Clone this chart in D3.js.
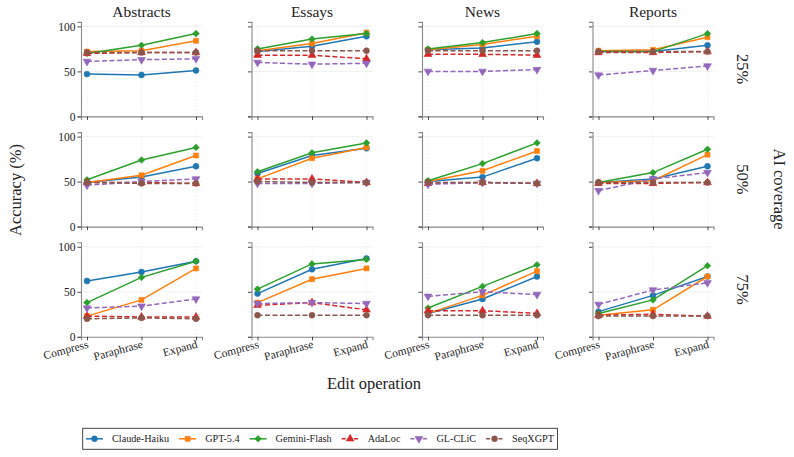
<!DOCTYPE html>
<html><head><meta charset="utf-8">
<script src="https://cdn.jsdelivr.net/npm/d3@7"></script>
<style>
html,body{margin:0;padding:0;background:#fff;}
text{font-family:"Liberation Serif","Times New Roman",serif;fill:#222;}
</style></head>
<body><svg id="chart" width="794" height="457"></svg>
<script>
// ---------------- DATA ----------------
const categories = ["Compress", "Paraphrase", "Expand"];
const docTypes = ["Abstracts", "Essays", "News", "Reports"];
const coverages = ["25%", "50%", "75%"];
const yTicks = [0, 50, 100];
const methods = ["Claude-Haiku", "GPT-5.4", "Gemini-Flash", "AdaLoc", "GL-CLiC", "SeqXGPT"];

// values[coverage][docType][operation]
const claudeHaiku = [
  [[47, 46, 51], [72, 78, 89], [74, 76, 83], [72, 72, 79]],
  [[49, 55, 67], [59, 79, 87], [50, 55, 76], [49, 53, 67]],
  [[62, 72, 84], [48, 75, 87], [26, 42, 67], [28, 46, 67]]
];
const gpt54 = [
  [[72, 73, 84], [73, 81, 93], [74, 80, 89], [73, 74, 88]],
  [[49, 57, 79], [53, 76, 88], [50, 62, 84], [49, 51, 80]],
  [[23, 41, 76], [38, 64, 76], [26, 46, 73], [24, 30, 67]]
];
const geminiFlash = [
  [[70, 79, 92], [75, 86, 92], [75, 82, 92], [72, 72, 92]],
  [[52, 74, 88], [61, 82, 93], [51, 70, 93], [49, 60, 86]],
  [[38, 66, 84], [53, 81, 86], [32, 56, 80], [26, 41, 79]]
];
const adaLoc = [
  [[70, 71, 71], [68, 68, 64], [69, 69, 68], [71, 71, 72]],
  [[49, 49, 48], [53, 53, 49], [48, 49, 48], [48, 48, 49]],
  [[23, 22, 22], [35, 38, 30], [29, 29, 26], [24, 25, 23]]
];
const glClic = [
  [[61, 63, 64], [60, 58, 59], [50, 50, 52], [46, 51, 56]],
  [[46, 50, 53], [48, 48, 49], [47, 49, 48], [40, 53, 60]],
  [[32, 34, 42], [37, 38, 37], [45, 50, 47], [36, 52, 60]]
];
const seqXgpt = [
  [[71, 71, 71], [73, 73, 73], [73, 73, 73], [72, 72, 72]],
  [[49, 48, 48], [50, 49, 49], [49, 49, 48], [49, 49, 49]],
  [[20, 21, 20], [24, 24, 24], [24, 24, 24], [23, 23, 23]]
];
const seriesValues = [claudeHaiku, gpt54, geminiFlash, adaLoc, glClic, seqXgpt];

// ---------------- STYLE ----------------
const colors = ["#1f77b4", "#ff7f0e", "#2ca02c", "#d62728", "#9467bd", "#8c564b"];
const dashed = [false, false, false, true, true, true];
const markers = ["circle", "square", "diamond", "triUp", "triDown", "circle"];

const svg = d3.select("#chart");
const panelW = 121, panelH = 94.5;
const colX0 = 81, colStep = 170.5;
const rowBottom0 = 116.4, rowStep = 110.2;

function symbolPath(kind) {
  if (kind === "circle") return d3.symbol(d3.symbolCircle, 27)();
  if (kind === "square") return d3.symbol(d3.symbolSquare, 25)();
  if (kind === "diamond") return d3.symbol(d3.symbolSquare, 22)();
  return d3.symbol(d3.symbolTriangle, 26)();
}
function drawMarker(g, kind, x, y, color) {
  let rot = "";
  if (kind === "triDown") rot = " rotate(180)";
  if (kind === "diamond") rot = " rotate(45)";
  g.append("path").attr("d", symbolPath(kind))
    .attr("transform", `translate(${x},${y})` + rot)
    .attr("fill", color).attr("stroke", color).attr("stroke-width", 0.6);
}

const xScale = d3.scaleLinear().domain([-0.11, 2.11]).range([0, panelW]);
const yScale = d3.scaleLinear().domain([0, 105]).range([panelH, 0]);

coverages.forEach((cov, r) => {
  docTypes.forEach((doc, c) => {
    const gx = colX0 + c * colStep;
    const gy = rowBottom0 + r * rowStep - panelH;
    const g = svg.append("g").attr("transform", `translate(${gx},${gy})`);

    // grid
    g.selectAll(".hg").data(yTicks.filter(t => t > 0)).join("line")
      .attr("x1", 0).attr("x2", panelW)
      .attr("y1", d => yScale(d)).attr("y2", d => yScale(d))
      .attr("stroke", "#ececec").attr("stroke-width", 0.8);
    g.selectAll(".vg").data(categories).join("line")
      .attr("x1", (d, i) => xScale(i)).attr("x2", (d, i) => xScale(i))
      .attr("y1", 0).attr("y2", panelH)
      .attr("stroke", "#e4e4e4").attr("stroke-width", 0.6).attr("stroke-dasharray", "1.5,2");

    // axes
    const yAxis = d3.axisLeft(yScale).tickValues(yTicks).tickSize(3.5).tickPadding(2)
      .tickFormat(c === 0 ? d3.format("d") : () => "");
    const ya = g.append("g").call(yAxis);
    const xAxis = d3.axisBottom(xScale).tickValues([0, 1, 2]).tickSize(3.5)
      .tickFormat(r === 2 ? (i => categories[i]) : () => "");
    const xa = g.append("g").attr("transform", `translate(0,${panelH})`).call(xAxis);
    [ya, xa].forEach(a => {
      a.attr("font-family", null);
      a.select(".domain").attr("stroke", "#888").attr("stroke-width", 1.1);
      a.selectAll(".tick line").attr("stroke", "#333").attr("stroke-width", 0.9);
      a.selectAll(".tick text").style("font-family", '"Liberation Serif","Times New Roman",serif')
        .style("font-size", "11.5px").attr("fill", "#222");
    });
    if (r === 2) {
      xa.selectAll(".tick text")
        .attr("text-anchor", "end").attr("dy", "0.6em").attr("y", 4)
        .attr("transform", "rotate(-15, 0, 5)");
    }

    // series
    seriesValues.forEach((sv, m) => {
      const vals = sv[r][c];
      const line = d3.line().x((d, i) => xScale(i)).y(d => yScale(d));
      g.append("path").datum(vals).attr("d", line)
        .attr("fill", "none").attr("stroke", colors[m]).attr("stroke-width", 1.5)
        .attr("stroke-dasharray", dashed[m] ? "5,2.5" : null);
      vals.forEach((v, i) => drawMarker(g, markers[m], xScale(i), yScale(v), colors[m]));
    });

    // column title
    if (r === 0) {
      g.append("text").attr("x", panelW / 2).attr("y", -5).attr("text-anchor", "middle")
        .style("font-size", "15.5px").text(doc);
    }
    // row label
    if (c === docTypes.length - 1) {
      g.append("text").attr("transform", `translate(${742 - gx},${panelH / 2}) rotate(90)`)
        .attr("text-anchor", "middle").attr("dominant-baseline", "central")
        .style("font-size", "16.5px").text(cov);
    }
  });
});

// global labels
svg.append("text").attr("x", 374).attr("y", 389).attr("text-anchor", "middle")
  .style("font-size", "16.5px").text("Edit operation");
svg.append("text").attr("transform", "translate(15,190) rotate(-90)")
  .attr("text-anchor", "middle").attr("dominant-baseline", "central")
  .style("font-size", "16.5px").text("Accuracy (%)");
svg.append("text").attr("transform", "translate(779,189) rotate(90)")
  .attr("text-anchor", "middle").attr("dominant-baseline", "central")
  .style("font-size", "16.5px").text("AI coverage");

// legend
const lg = svg.append("g");
const box = lg.append("rect").attr("x", 82.7).attr("y", 428.3).attr("height", 21)
  .attr("fill", "#fff").attr("stroke", "#333").attr("stroke-width", 0.9);
let cx = 86;
const ly = 438.8;
methods.forEach((name, m) => {
  lg.append("line").attr("x1", cx).attr("x2", cx + 17).attr("y1", ly).attr("y2", ly)
    .attr("stroke", colors[m]).attr("stroke-width", 1.5)
    .attr("stroke-dasharray", dashed[m] ? "4,2.2" : null);
  drawMarker(lg, markers[m], cx + 8.5, ly, colors[m]);
  const t = lg.append("text").attr("x", cx + 26).attr("y", ly).attr("dominant-baseline", "central")
    .style("font-size", "10.2px").text(name);
  cx += 26 + t.node().getComputedTextLength() + 10;
});
box.attr("width", cx - 82.7 - 6.5);
</script></body></html>
